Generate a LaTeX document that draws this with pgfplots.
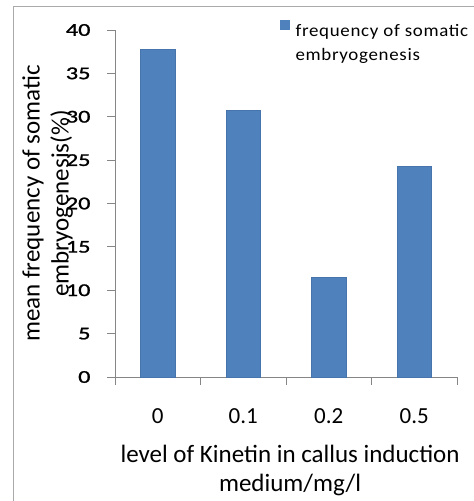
\documentclass[border=0pt]{standalone}
\usepackage{fontspec}
\setmainfont{Carlito}
\newfontfamily\ytickfont{Carlito}[FakeStretch=1.35, FakeBold=1.2]
\newfontfamily\legfont{Carlito}[FakeStretch=1.08, LetterSpace=4]
\usepackage{pgfplots}
\pgfplotsset{compat=1.18}
\definecolor{barblue}{HTML}{4F81BD}
\definecolor{axgrey}{HTML}{868686}
\begin{document}
\begin{tikzpicture}[x=1bp,y=1bp]
\path[use as bounding box] (0,0) rectangle (474,-501);
\draw[color=axgrey!70, line width=1bp] (13,-501) -- (13,-7) -- (474,-7);
\begin{axis}[
  at={(115bp,-377bp)}, anchor=south west,
  scale only axis, width=342bp, height=347bp,
  xmin=-0.5, xmax=3.5, ymin=0, ymax=40,
  axis lines*=left,
  axis line style={color=axgrey, line width=0.9bp},
  ytick={0,5,...,40},
  xtick={-0.5,0.5,1.5,2.5,3.5},
  xticklabels={},
  extra x ticks={0,1,2,3},
  extra x tick labels={0,0.1,0.2,0.5},
  extra x tick style={major tick length=0pt, xticklabel style={yshift=-28bp, font=\fontsize{23bp}{26bp}\selectfont}},
  tick align=outside,
  major tick length=8bp,
  tick style={color=axgrey, line width=0.9bp},
  /pgf/number format/assume math mode=true,
  tick label style={text=black},
  yticklabel style={font=\ytickfont\fontsize{18bp}{22bp}\selectfont, xshift=-13bp},
  bar width=0.4,
  ylabel={mean frequency of somatic\\embryogenesis(\%)},
  ylabel style={font=\fontsize{25bp}{29bp}\selectfont, align=center,
    at={(axis description cs:-0.197,0.5)}, anchor=center, rotate=0},
  xlabel={level of Kinetin in callus induction\\medium/mg/l},
  xlabel style={font=\fontsize{25bp}{29bp}\selectfont, align=center,
    at={(axis description cs:0.512,-0.27)}, anchor=center},
  legend style={draw=none, fill=none, at={(axis description cs:0.482,1.034)}, anchor=north west,
    inner sep=0pt, font=\legfont\fontsize{17.5bp}{23bp}\selectfont,
    /tikz/every even column/.append style={column sep=0pt}},
  legend cell align=left,
  legend image code/.code={\draw[fill=barblue,draw=barblue] (0bp,0bp) rectangle (9bp,9bp);},
]
\addplot[ybar, fill=barblue, draw=barblue!90!black, line width=0.5bp] coordinates {(0,37.8) (1,30.7) (2,11.5) (3,24.3)};
\addlegendentry{\hspace{4bp}\begin{tabular}[t]{@{}l@{}}frequency of somatic\\[1bp]embryogenesis\end{tabular}}
\end{axis}
\end{tikzpicture}
\end{document}
